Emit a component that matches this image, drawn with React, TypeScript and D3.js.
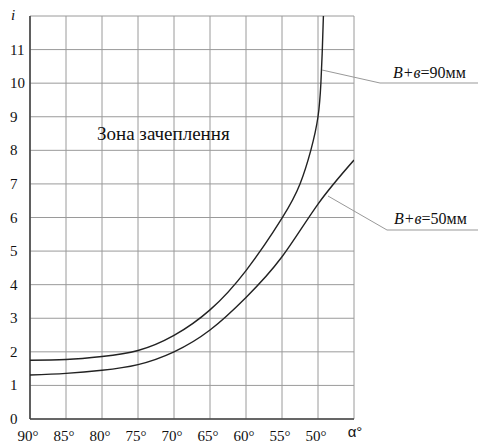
import React from "react";
import * as d3 from "d3";

const xTicks = [90, 85, 80, 75, 70, 65, 60, 55, 50];
const yTicks = [0, 1, 2, 3, 4, 5, 6, 7, 8, 9, 10, 11];
const alpha90 = [90, 85, 80, 75, 70, 65, 60, 55, 52.5, 51, 50, 49.6, 49.4, 49.25];
const i90 = [1.75, 1.77, 1.86, 2.04, 2.49, 3.25, 4.42, 5.98, 7.0, 8.0, 9.0, 10.0, 11.0, 12.0];
const alpha50 = [90, 85, 80, 75, 70, 65, 60, 55, 50, 45];
const i50 = [1.31, 1.36, 1.45, 1.62, 2.0, 2.65, 3.62, 4.83, 6.4, 7.71];
const seriesLabels = ["=90мм", "=50мм"];

const W = 478, H = 443;
const x = d3.scaleLinear().domain([90, 45]).range([30, 354]);
const y = d3.scaleLinear().domain([0, 12]).range([419, 16]);

const line = d3
  .line<[number, number]>()
  .x((d) => x(d[0]))
  .y((d) => y(d[1]))
  .curve(d3.curveNatural);

const serif = '"Liberation Serif", "Times New Roman", Tinos, "DejaVu Serif", serif';
const sans = '"Liberation Sans", Arial, sans-serif';

export default function App() {
  const d90 = line(alpha90.map((a, k) => [a, i90[k]] as [number, number])) || "";
  const d50 = line(alpha50.map((a, k) => [a, i50[k]] as [number, number])) || "";
  const gridX = d3.range(90, 44, -5);
  const gridY = d3.range(0, 13, 1);
  const ts = { fontFamily: serif, fontSize: 15, fill: "#111" } as React.CSSProperties;
  return (
    <svg width={W} height={H} style={{ position: "absolute", left: 0, top: 0, background: "#fff" }}>
      <defs>
        <clipPath id="plot">
          <rect x={x(90)} y={y(12)} width={x(45) - x(90)} height={y(0) - y(12)} />
        </clipPath>
      </defs>
      {gridX.map((v) => (
        <line key={"gx" + v} x1={x(v)} x2={x(v)} y1={y(0)} y2={y(12)} stroke="#9a9a9a" strokeWidth={1} />
      ))}
      {gridY.map((v) => (
        <line key={"gy" + v} x1={x(90)} x2={x(45)} y1={y(v)} y2={y(v)} stroke="#9a9a9a" strokeWidth={1} />
      ))}
      <line x1={x(90)} x2={x(90)} y1={y(0)} y2={y(12)} stroke="#444" strokeWidth={1.6} />
      <line x1={x(90)} x2={x(45)} y1={y(0)} y2={y(0)} stroke="#444" strokeWidth={1.6} />
      <g clipPath="url(#plot)">
        <path d={d90} fill="none" stroke="#222" strokeWidth={1.4} />
        <path d={d50} fill="none" stroke="#222" strokeWidth={1.4} />
      </g>
      {yTicks.map((v) => (
        <text key={"yt" + v} x={10} y={y(v) + 5} style={ts}>
          {v}
        </text>
      ))}
      <text x={11} y={20} style={{ ...ts, fontStyle: "italic" }}>i</text>
      {xTicks.map((v) => (
        <text key={"xt" + v} x={x(v) - 2} y={441} textAnchor="middle" style={ts}>
          {v + "°"}
        </text>
      ))}
      <text x={355} y={437} textAnchor="middle" style={{ fontFamily: sans, fontSize: 15, fill: "#111" }}>α°</text>
      <text x={97} y={140} style={{ ...ts, fontSize: 19 }}>Зона зачеплення</text>

      <line x1={322} y1={70} x2={380} y2={83} stroke="#999" strokeWidth={1} />
      <line x1={380} y1={83} x2={478} y2={83} stroke="#999" strokeWidth={1} />
      <text x={393} y={78} style={{ ...ts, fontSize: 16 }}>
        <tspan style={{ fontStyle: "italic" }}>B+в</tspan>
        <tspan>{seriesLabels[0]}</tspan>
      </text>

      <line x1={328} y1={196} x2={387} y2={230} stroke="#999" strokeWidth={1} />
      <line x1={387} y1={230} x2={478} y2={230} stroke="#999" strokeWidth={1} />
      <text x={394} y={224} style={{ ...ts, fontSize: 16 }}>
        <tspan style={{ fontStyle: "italic" }}>B+в</tspan>
        <tspan>{seriesLabels[1]}</tspan>
      </text>
    </svg>
  );
}
